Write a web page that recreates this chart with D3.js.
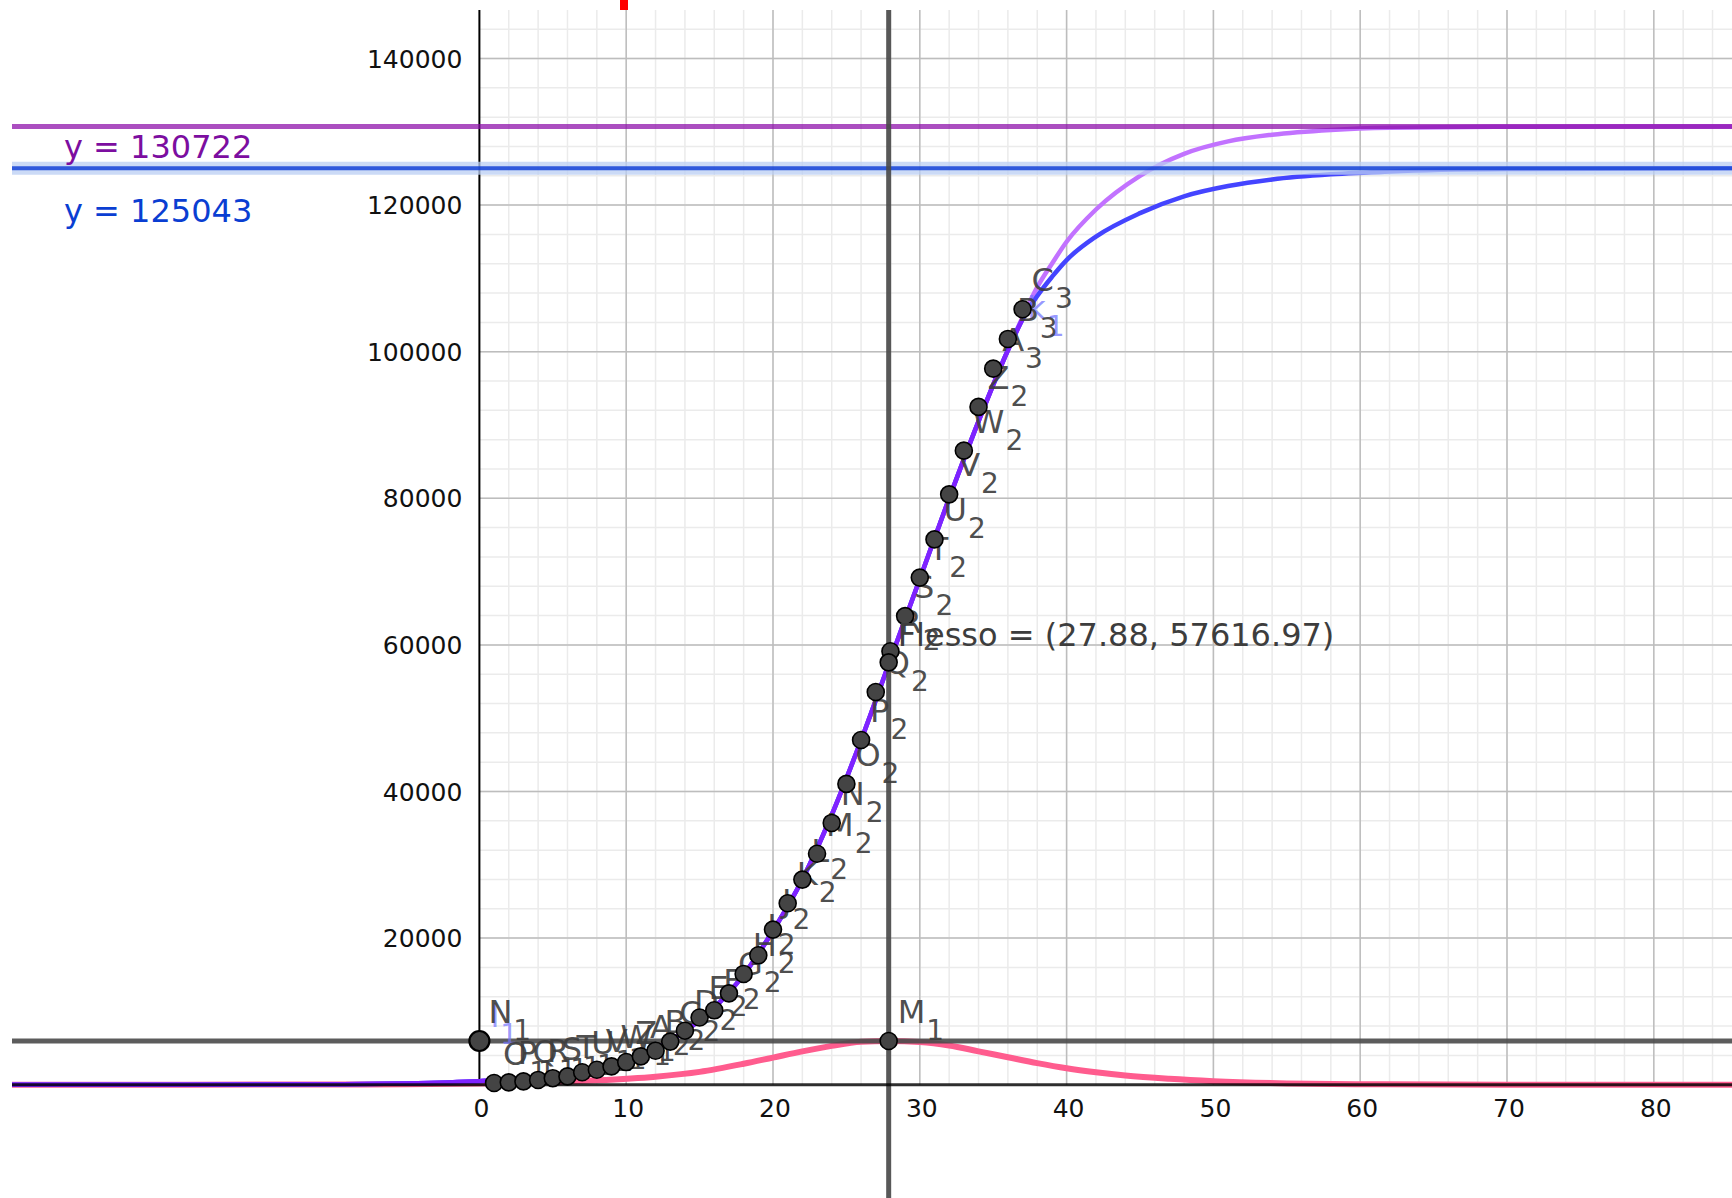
<!DOCTYPE html>
<html>
<head>
<meta charset="utf-8">
<script src="https://cdn.jsdelivr.net/npm/d3@7/dist/d3.min.js"></script>
<style>
  html, body { margin: 0; padding: 0; background: #fff; }
  svg { display: block; }
  text { font-family: "DejaVu Sans", sans-serif; }
</style>
</head>
<body>
<div id="chart"></div>
<script>
// ---- data ----
var days = [1, 2, 3, 4, 5, 6, 7, 8, 9, 10, 11, 12, 13, 14, 15, 16, 17, 18, 19, 20,
            21, 22, 23, 24, 25, 26, 27, 28, 29, 30, 31, 32, 33, 34, 35, 36, 37];
var cases = [230, 320, 450, 650, 890, 1130, 1700, 2040, 2500, 3090, 3860, 4640, 5880, 7370,
             9170, 10150, 12460, 15110, 17660, 21160, 24750, 27980, 31510, 35710, 41040,
             47020, 53580, 59140, 63930, 69180, 74390, 80540, 86500, 92470, 97690, 101740, 105790];
var pointNames = ['O1', 'P1', 'Q1', 'R1', 'S1', 'T1', 'U1', 'V1', 'W1', 'Z1',
                  'A2', 'B2', 'C2', 'D2', 'E2', 'F2', 'G2', 'H2', 'I2', 'J2', 'K2', 'L2',
                  'M2', 'N2', 'O2', 'P2', 'Q2', 'R2', 'S2', 'T2', 'U2', 'V2', 'W2', 'Z2',
                  'A3', 'B3', 'C3'];

// fitted curves [day, value]
var fitShared = [[-33, 0], [-20, 10], [-10, 65], [-5, 180], [0, 480], [2, 700], [4, 1050],
                 [6, 1550], [8, 2300], [10, 3400], [12, 5000], [14, 7300], [16, 10500],
                 [18, 15000], [20, 21000], [22, 28000], [24, 36800], [26, 47000], [28, 58000],
                 [30, 69000], [32, 80000], [34, 90500], [36, 100200]];
var fitViolet = fitShared.concat([[37, 104500]]);
var fitPurple = fitShared.concat([[37, 104700], [38, 108800], [39, 112000], [40, 115000],
                 [42, 119400], [45, 124000], [48, 127000], [51, 128700], [54, 129600],
                 [58, 130250], [62, 130550], [70, 130700], [86, 130722]]);
var fitBlue = fitShared.concat([[37, 104400], [38, 107600], [39, 110200], [40, 112500],
                 [42, 115700], [45, 118900], [48, 121200], [51, 122600], [54, 123500],
                 [58, 124200], [62, 124600], [70, 124920], [86, 125043]]);
// daily growth curve (pink)
var growth = [[-33, 0], [-20, 5], [-10, 30], [-5, 70], [0, 160], [4, 320], [8, 600],
              [12, 1100], [15, 1750], [18, 2850], [20, 3700], [22, 4550], [24, 5300],
              [26, 5850], [27.88, 5960], [30, 5820], [32, 5350], [34, 4550], [36, 3750],
              [38, 2950], [40, 2250], [42, 1700], [44, 1250], [47, 800], [50, 480],
              [55, 180], [60, 60], [70, 10], [86, 0]];

var asymPurple = 130722;
var asymBlue = 125043;
var peak = {name: 'M1', x: 27.88, y: 5960};
var peakOnAxis = {name: 'N1', x: 0, y: 5960};
var flex = {x: 27.88, y: 57616.97, text: 'Flesso = (27.88, 57616.97)'};

var xTicks = [0, 10, 20, 30, 40, 50, 60, 70, 80];
var yTicks = [20000, 40000, 60000, 80000, 100000, 120000, 140000];

// ---- layout ----
var width = 1732, height = 1198;
var view = {left: 12, top: 10};
var origin = {x: 479.4, y: 1084.7};
var unitX = 14.68;      // px per day
var unitY = 7.33;       // px per 1000 cases

var svg = d3.select('#chart').append('svg')
    .attr('width', width)
    .attr('height', height);

var x = d3.scaleLinear().domain([0, 80]).range([origin.x, origin.x + 80 * unitX]);
var y = d3.scaleLinear().domain([0, 140000]).range([origin.y, origin.y - 140 * unitY]);

var xMax = x.invert(width);
var yMax = y.invert(view.top);

svg.append('defs').append('clipPath').attr('id', 'view')
    .append('rect')
    .attr('x', view.left).attr('y', view.top)
    .attr('width', width - view.left).attr('height', height - view.top);

// red marker above the view
svg.append('rect')
    .attr('x', 620).attr('y', 0).attr('width', 8).attr('height', 10)
    .attr('fill', '#ff0000');

var chart = svg.append('g').attr('clip-path', 'url(#view)');

// grid, first quadrant only
var grid = chart.append('g');
function gridLines(stepX, stepY, color, w) {
    grid.append('g').selectAll('line')
        .data(d3.range(stepX, xMax, stepX))
        .enter().append('line')
        .attr('x1', d => x(d)).attr('x2', d => x(d))
        .attr('y1', view.top).attr('y2', y(0))
        .attr('stroke', color).attr('stroke-width', w);
    grid.append('g').selectAll('line')
        .data(d3.range(stepY, yMax, stepY))
        .enter().append('line')
        .attr('x1', x(0)).attr('x2', width)
        .attr('y1', d => y(d)).attr('y2', d => y(d))
        .attr('stroke', color).attr('stroke-width', w);
}
gridLines(2, 4000, '#ebebeb', 1.5);
gridLines(10, 20000, '#bdbdbd', 1.5);

// y axis
chart.append('line')
    .attr('x1', x(0)).attr('x2', x(0))
    .attr('y1', view.top).attr('y2', y(0))
    .attr('stroke', '#000').attr('stroke-width', 2);

// tick labels
chart.append('g').selectAll('text')
    .data(yTicks).enter().append('text')
    .attr('x', x(0) - 17)
    .attr('y', d => y(d))
    .attr('dy', '0.36em')
    .attr('text-anchor', 'end')
    .attr('font-size', 25)
    .attr('fill', '#111')
    .text(d => d);
chart.append('g').selectAll('text')
    .data(xTicks).enter().append('text')
    .attr('x', d => x(d) + 2)
    .attr('y', y(0) + 32)
    .attr('text-anchor', 'middle')
    .attr('font-size', 25)
    .attr('fill', '#111')
    .text(d => d);

// curves
var line = d3.line()
    .x(d => x(d[0]))
    .y(d => y(d[1]))
    .curve(d3.curveMonotoneX);

chart.append('path').datum(growth)
    .attr('d', line).attr('fill', 'none')
    .attr('stroke', '#ff5c8e').attr('stroke-width', 6);
chart.append('path').datum(fitPurple)
    .attr('d', line).attr('fill', 'none')
    .attr('stroke', '#c272ff').attr('stroke-width', 4.5);
chart.append('path').datum(fitBlue)
    .attr('d', line).attr('fill', 'none')
    .attr('stroke', '#4444ff').attr('stroke-width', 4.5);
chart.append('path').datum(fitViolet)
    .attr('d', line).attr('fill', 'none')
    .attr('stroke', '#7f22ff').attr('stroke-width', 4.5);

// asymptotes
chart.append('line')
    .attr('x1', view.left).attr('x2', width)
    .attr('y1', y(asymBlue)).attr('y2', y(asymBlue))
    .attr('stroke', '#b9cdf3').attr('stroke-width', 13).attr('stroke-opacity', 0.75);
chart.append('line')
    .attr('x1', view.left).attr('x2', width)
    .attr('y1', y(asymBlue)).attr('y2', y(asymBlue))
    .attr('stroke', '#0838d6').attr('stroke-width', 4).attr('stroke-opacity', 0.8);
chart.append('line')
    .attr('x1', view.left).attr('x2', width)
    .attr('y1', y(asymPurple)).attr('y2', y(asymPurple))
    .attr('stroke', '#8a0aa8').attr('stroke-width', 5).attr('stroke-opacity', 0.72);

chart.append('text')
    .attr('x', 64).attr('y', 158)
    .attr('font-size', 32).attr('fill', '#7c0ea0')
    .text('y = ' + asymPurple);
chart.append('text')
    .attr('x', 64).attr('y', 222)
    .attr('font-size', 32).attr('fill', '#0a3ed2')
    .text('y = ' + asymBlue);

// peak lines
chart.append('line')
    .attr('x1', view.left).attr('x2', width)
    .attr('y1', y(peak.y)).attr('y2', y(peak.y))
    .attr('stroke', '#4a4a4a').attr('stroke-width', 5).attr('stroke-opacity', 0.9);
chart.append('line')
    .attr('x1', x(peak.x)).attr('x2', x(peak.x))
    .attr('y1', view.top).attr('y2', height)
    .attr('stroke', '#4a4a4a').attr('stroke-width', 5).attr('stroke-opacity', 0.92);

// x axis
chart.append('line')
    .attr('x1', view.left).attr('x2', width)
    .attr('y1', y(0)).attr('y2', y(0))
    .attr('stroke', '#000').attr('stroke-width', 3).attr('stroke-opacity', 0.82);

// point label: letter plus lowered index, up and right of the point
function pointLabel(g, px, py, name, color, opacity) {
    var t = g.append('text')
        .attr('x', px + 9).attr('y', py - 18)
        .attr('font-size', 32)
        .attr('fill', color)
        .attr('fill-opacity', opacity);
    t.append('tspan').text(name.slice(0, 1));
    t.append('tspan').attr('dx', 1).attr('dy', 17).attr('font-size', 28).text(name.slice(1));
}
// faint line labels
pointLabel(chart, x(38) - 19, y(108500) + 48, 'k1', '#7676ff', 0.75);
pointLabel(chart, x(0) + 2, y(peak.y) + 4, 'l1', '#7676ff', 0.7);

// points with labels (drawn in construction order)
var pts = chart.append('g');
var data = days.map((d, i) => ({x: d, y: cases[i], name: pointNames[i]}));
data.forEach(function(d) {
    var g = pts.append('g');
    g.append('circle')
        .attr('cx', x(d.x)).attr('cy', y(d.y)).attr('r', 8.5)
        .attr('fill', '#444').attr('stroke', '#000').attr('stroke-width', 1.6);
    pointLabel(g, x(d.x), y(d.y), d.name, '#3d3d3d', 0.92);
});

// flex point
chart.append('circle')
    .attr('cx', x(flex.x)).attr('cy', y(flex.y)).attr('r', 8.5)
    .attr('fill', '#444').attr('stroke', '#000').attr('stroke-width', 1.6);
chart.append('text')
    .attr('x', x(flex.x) + 9).attr('y', y(flex.y) - 16)
    .attr('font-size', 32).attr('fill', '#3d3d3d')
    .text(flex.text);

// M1 and N1
[peakOnAxis, peak].forEach(function(p, i) {
    chart.append('circle')
        .attr('cx', x(p.x)).attr('cy', y(p.y)).attr('r', i == 0 ? 10 : 8.5)
        .attr('fill', '#444').attr('stroke', '#000').attr('stroke-width', i == 0 ? 2.2 : 1.6);
    pointLabel(chart, x(p.x), y(p.y), p.name, '#3d3d3d', 0.92);
});
</script>
</body>
</html>
